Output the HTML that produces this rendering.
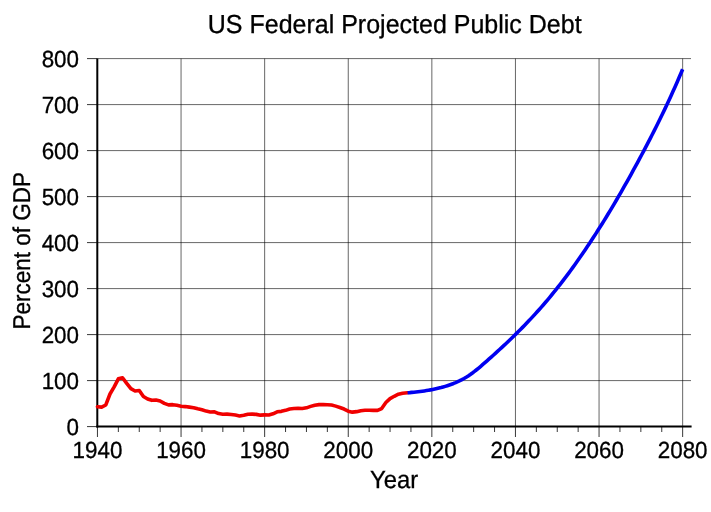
<!DOCTYPE html>
<html><head><meta charset="utf-8"><style>
html,body{margin:0;padding:0;background:#fff;}
svg{display:block;font-family:"Liberation Sans",sans-serif;will-change:transform;text-rendering:geometricPrecision;}
</style></head><body>
<svg width="711" height="512" viewBox="0 0 711 512">
<rect width="711" height="512" fill="#fff"/>
<g stroke="#000" stroke-opacity="0.6" stroke-width="1" fill="none">
<line x1="97" y1="380.60" x2="691" y2="380.60"/>
<line x1="97" y1="334.60" x2="691" y2="334.60"/>
<line x1="97" y1="288.60" x2="691" y2="288.60"/>
<line x1="97" y1="242.60" x2="691" y2="242.60"/>
<line x1="97" y1="196.60" x2="691" y2="196.60"/>
<line x1="97" y1="150.60" x2="691" y2="150.60"/>
<line x1="97" y1="104.60" x2="691" y2="104.60"/>
<line x1="97" y1="58.60" x2="691" y2="58.60"/>
<line x1="181.05" y1="58.60" x2="181.05" y2="426.60"/>
<line x1="264.65" y1="58.60" x2="264.65" y2="426.60"/>
<line x1="348.25" y1="58.60" x2="348.25" y2="426.60"/>
<line x1="431.85" y1="58.60" x2="431.85" y2="426.60"/>
<line x1="515.45" y1="58.60" x2="515.45" y2="426.60"/>
<line x1="599.05" y1="58.60" x2="599.05" y2="426.60"/>
<line x1="682.65" y1="58.60" x2="682.65" y2="426.60"/>
</g>
<g stroke="#383838" stroke-width="1" fill="none">
<line x1="87" y1="426.60" x2="97" y2="426.60"/>
<line x1="87" y1="380.60" x2="97" y2="380.60"/>
<line x1="87" y1="334.60" x2="97" y2="334.60"/>
<line x1="87" y1="288.60" x2="97" y2="288.60"/>
<line x1="87" y1="242.60" x2="97" y2="242.60"/>
<line x1="87" y1="196.60" x2="97" y2="196.60"/>
<line x1="87" y1="150.60" x2="97" y2="150.60"/>
<line x1="87" y1="104.60" x2="97" y2="104.60"/>
<line x1="87" y1="58.60" x2="97" y2="58.60"/>
<line x1="97.45" y1="426.60" x2="97.45" y2="437"/>
<line x1="181.05" y1="426.60" x2="181.05" y2="437"/>
<line x1="264.65" y1="426.60" x2="264.65" y2="437"/>
<line x1="348.25" y1="426.60" x2="348.25" y2="437"/>
<line x1="431.85" y1="426.60" x2="431.85" y2="437"/>
<line x1="515.45" y1="426.60" x2="515.45" y2="437"/>
<line x1="599.05" y1="426.60" x2="599.05" y2="437"/>
<line x1="682.65" y1="426.60" x2="682.65" y2="437"/>
<line x1="118.35" y1="426.60" x2="118.35" y2="432"/>
<line x1="139.25" y1="426.60" x2="139.25" y2="432"/>
<line x1="160.15" y1="426.60" x2="160.15" y2="432"/>
<line x1="201.95" y1="426.60" x2="201.95" y2="432"/>
<line x1="222.85" y1="426.60" x2="222.85" y2="432"/>
<line x1="243.75" y1="426.60" x2="243.75" y2="432"/>
<line x1="285.55" y1="426.60" x2="285.55" y2="432"/>
<line x1="306.45" y1="426.60" x2="306.45" y2="432"/>
<line x1="327.35" y1="426.60" x2="327.35" y2="432"/>
<line x1="369.15" y1="426.60" x2="369.15" y2="432"/>
<line x1="390.05" y1="426.60" x2="390.05" y2="432"/>
<line x1="410.95" y1="426.60" x2="410.95" y2="432"/>
<line x1="452.75" y1="426.60" x2="452.75" y2="432"/>
<line x1="473.65" y1="426.60" x2="473.65" y2="432"/>
<line x1="494.55" y1="426.60" x2="494.55" y2="432"/>
<line x1="536.35" y1="426.60" x2="536.35" y2="432"/>
<line x1="557.25" y1="426.60" x2="557.25" y2="432"/>
<line x1="578.15" y1="426.60" x2="578.15" y2="432"/>
<line x1="619.95" y1="426.60" x2="619.95" y2="432"/>
<line x1="640.85" y1="426.60" x2="640.85" y2="432"/>
<line x1="661.75" y1="426.60" x2="661.75" y2="432"/>
</g>
<g stroke="#000" stroke-width="2" fill="none">
<line x1="97.3" y1="58.60" x2="97.3" y2="427.6"/>
<line x1="96.3" y1="426.60" x2="691.6" y2="426.60"/>
</g>
<polyline points="97.45,406.73 101.63,407.14 105.81,404.98 109.99,393.99 114.17,386.90 118.35,378.81 122.53,377.79 126.71,383.41 130.89,388.70 135.07,391.00 139.25,390.49 143.43,396.47 147.61,398.95 151.79,400.33 155.97,399.97 160.15,400.98 164.33,403.32 168.51,404.89 172.69,404.66 176.87,405.26 181.05,406.22 185.23,406.59 189.41,407.14 193.59,407.74 197.77,408.80 201.95,409.72 206.13,411.10 210.31,411.97 214.49,411.79 218.67,413.58 222.85,414.18 227.03,414.13 231.21,414.46 235.39,415.05 239.57,415.97 243.75,415.33 247.93,414.32 252.11,414.13 256.29,414.36 260.47,415.15 264.65,414.87 268.83,415.01 273.01,413.77 277.19,411.83 281.37,411.37 285.55,410.36 289.73,408.94 293.91,408.43 298.09,408.29 302.27,408.52 306.45,407.83 310.63,406.36 314.81,405.16 318.99,404.61 323.17,404.66 327.35,404.75 331.53,405.07 335.71,406.13 339.89,407.46 344.07,409.03 348.25,411.14 352.43,412.16 356.61,411.65 360.79,410.73 364.97,410.27 369.15,410.22 373.33,410.36 377.51,410.41 381.69,408.52 385.87,402.54 390.05,398.59 394.23,396.29 398.41,394.22 402.59,393.20 407.61,392.70" fill="none" stroke="#f00000" stroke-width="3.6" stroke-linejoin="round" stroke-linecap="round"/>
<polyline points="407.61,392.70 409.70,392.59 411.79,392.40 413.88,392.19 415.97,391.97 418.06,391.74 420.15,391.48 422.24,391.21 424.33,390.91 426.42,390.59 428.51,390.25 430.60,389.88 432.69,389.48 434.78,389.05 436.87,388.58 438.96,388.08 441.05,387.55 443.14,386.97 445.23,386.36 447.32,385.70 449.41,385.00 451.50,384.25 453.59,383.45 455.68,382.59 457.77,381.67 459.86,380.69 461.95,379.63 464.04,378.49 466.13,377.26 468.22,375.95 470.31,374.54 472.40,373.03 474.49,371.44 476.58,369.77 478.67,368.04 480.76,366.27 482.85,364.46 484.94,362.63 487.03,360.80 489.12,358.95 491.21,357.09 493.30,355.22 495.39,353.34 497.48,351.45 499.57,349.54 501.66,347.61 503.75,345.67 505.84,343.72 507.93,341.74 510.02,339.75 512.11,337.74 514.20,335.71 516.29,333.66 518.38,331.59 520.47,329.49 522.56,327.37 524.65,325.23 526.74,323.06 528.83,320.86 530.92,318.64 533.01,316.39 535.10,314.12 537.19,311.81 539.28,309.47 541.37,307.10 543.46,304.70 545.55,302.27 547.64,299.80 549.73,297.30 551.82,294.77 553.91,292.20 556.00,289.60 558.09,286.97 560.18,284.30 562.27,281.60 564.36,278.86 566.45,276.10 568.54,273.30 570.63,270.46 572.72,267.60 574.81,264.70 576.90,261.76 578.99,258.79 581.08,255.79 583.17,252.76 585.26,249.69 587.35,246.59 589.44,243.46 591.53,240.29 593.62,237.09 595.71,233.86 597.80,230.59 599.89,227.29 601.98,223.96 604.07,220.60 606.16,217.20 608.25,213.77 610.34,210.31 612.43,206.82 614.52,203.30 616.61,199.75 618.70,196.16 620.79,192.55 622.88,188.90 624.97,185.23 627.06,181.52 629.15,177.79 631.24,174.02 633.33,170.22 635.42,166.40 637.51,162.55 639.60,158.66 641.69,154.75 643.78,150.81 645.87,146.84 647.96,142.84 650.05,138.81 652.14,134.73 654.23,130.62 656.32,126.47 658.41,122.27 660.50,118.02 662.59,113.71 664.68,109.36 666.77,104.94 668.86,100.47 670.95,95.93 673.04,91.33 675.13,86.65 677.22,81.91 679.31,77.09 681.40,72.19 682.65,69.21" fill="none" stroke="#0000f0" stroke-width="3.6" stroke-linejoin="round" stroke-linecap="butt"/>
<g font-size="22.4" fill="#000" stroke="#000" stroke-width="0.3">
<text transform="translate(79,434.60) scale(1,1.04)" text-anchor="end">0</text>
<text transform="translate(79,388.60) scale(1,1.04)" text-anchor="end">100</text>
<text transform="translate(79,342.60) scale(1,1.04)" text-anchor="end">200</text>
<text transform="translate(79,296.60) scale(1,1.04)" text-anchor="end">300</text>
<text transform="translate(79,250.60) scale(1,1.04)" text-anchor="end">400</text>
<text transform="translate(79,204.60) scale(1,1.04)" text-anchor="end">500</text>
<text transform="translate(79,158.60) scale(1,1.04)" text-anchor="end">600</text>
<text transform="translate(79,112.60) scale(1,1.04)" text-anchor="end">700</text>
<text transform="translate(79,66.60) scale(1,1.04)" text-anchor="end">800</text>
<text transform="translate(97.45,458) scale(1,1.04)" text-anchor="middle">1940</text>
<text transform="translate(181.05,458) scale(1,1.04)" text-anchor="middle">1960</text>
<text transform="translate(264.65,458) scale(1,1.04)" text-anchor="middle">1980</text>
<text transform="translate(348.25,458) scale(1,1.04)" text-anchor="middle">2000</text>
<text transform="translate(431.85,458) scale(1,1.04)" text-anchor="middle">2020</text>
<text transform="translate(515.45,458) scale(1,1.04)" text-anchor="middle">2040</text>
<text transform="translate(599.05,458) scale(1,1.04)" text-anchor="middle">2060</text>
<text transform="translate(682.65,458) scale(1,1.04)" text-anchor="middle">2080</text>
<text transform="translate(394.1,487.8) scale(1,1.04)" text-anchor="middle" font-size="23.8">Year</text>
<text transform="translate(29.5,250.8) rotate(-90) scale(1,1.08)" text-anchor="middle" font-size="22.5">Percent of GDP</text>
</g>
<text transform="translate(394.7,33) scale(1,1.04)" text-anchor="middle" font-size="25" fill="#000" stroke="#000" stroke-width="0.3">US Federal Projected Public Debt</text>
</svg>
</body></html>
